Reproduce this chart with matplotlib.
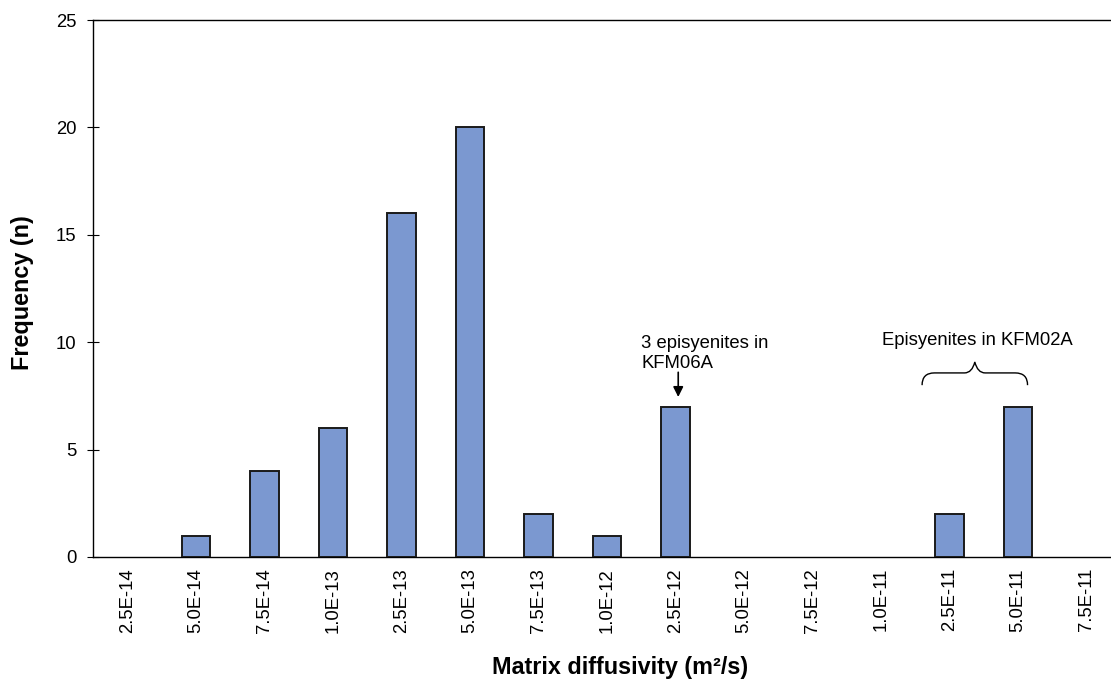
import numpy as np
import matplotlib
matplotlib.use("Agg")
import matplotlib.pyplot as plt
from matplotlib.path import Path
from matplotlib.patches import PathPatch

plt.rcParams["font.family"] = ["Liberation Sans", "DejaVu Sans"]

# data
categories = ["2.5E-14", "5.0E-14", "7.5E-14", "1.0E-13", "2.5E-13", "5.0E-13",
              "7.5E-13", "1.0E-12", "2.5E-12", "5.0E-12", "7.5E-12", "1.0E-11",
              "2.5E-11", "5.0E-11", "7.5E-11"]
frequency = [0, 1, 4, 6, 16, 20, 2, 1, 7, 0, 0, 0, 2, 7, 0]

BAR = "#7b98d0"
FS = 13.3

fig = plt.figure(figsize=(11.11, 6.89), dpi=100)
ax = fig.add_axes([0.0837, 0.1916, 0.9248, 0.7793])

x = np.arange(len(categories))
lws = [1.4 if v > 0 else 0 for v in frequency]
ax.bar(x, frequency, width=0.41, color=BAR, edgecolor="#1a1a1a", linewidth=lws, zorder=3)

ax.set_xlim(-0.504, 14.496)
ax.set_ylim(0, 25)
ax.set_yticks([0, 5, 10, 15, 20, 25])
ax.set_xticks(x)
ax.set_xticklabels(categories, rotation=90, fontsize=FS)
ax.tick_params(axis="x", length=0, pad=8)
ax.tick_params(axis="y", direction="inout", length=8, width=0.8, labelsize=FS, pad=8)
for sp in ax.spines.values():
    sp.set_linewidth(1.0)

fig.text(0.02, 0.575, "Frequency (n)", rotation=90, ha="center", va="center",
         fontsize=16.8, fontweight="bold")
fig.text(0.558, 0.031, "Matrix diffusivity (m²/s)", ha="center", va="center",
         fontsize=16.8, fontweight="bold")

# annotations
ax.text(7.50, 9.47, "3 episyenites in\nKFM06A", ha="left", va="center",
        fontsize=FS, linespacing=1.2)
ax.annotate("", xy=(8.04, 7.45), xytext=(8.04, 8.6),
            arrowprops=dict(arrowstyle="-|>", color="black", lw=1.2,
                            mutation_scale=15, shrinkA=0, shrinkB=0))

ax.text(12.41, 10.06, "Episyenites in KFM02A", ha="center", va="center", fontsize=FS)

# curly brace
x0, x1 = 11.6, 13.14
xm = (x0 + x1) / 2
yb, yl, yt = 8.0, 8.57, 9.08
verts = [(x0, yb), (x0, yl), (x0 + 0.18, yl), (x0 + 0.3, yl),
         (xm - 0.15, yl), (xm - 0.04, yl), (xm, yt),
         (xm + 0.04, yl), (xm + 0.15, yl),
         (x1 - 0.3, yl), (x1 - 0.18, yl), (x1, yl), (x1, yb)]
codes = [Path.MOVETO, Path.CURVE3, Path.CURVE3, Path.LINETO,
         Path.LINETO, Path.CURVE3, Path.CURVE3,
         Path.CURVE3, Path.CURVE3,
         Path.LINETO, Path.LINETO, Path.CURVE3, Path.CURVE3]
ax.add_patch(PathPatch(Path(verts, codes), facecolor="none", edgecolor="black",
                       lw=1.0, clip_on=False))

fig.savefig("out.png", dpi=100)
